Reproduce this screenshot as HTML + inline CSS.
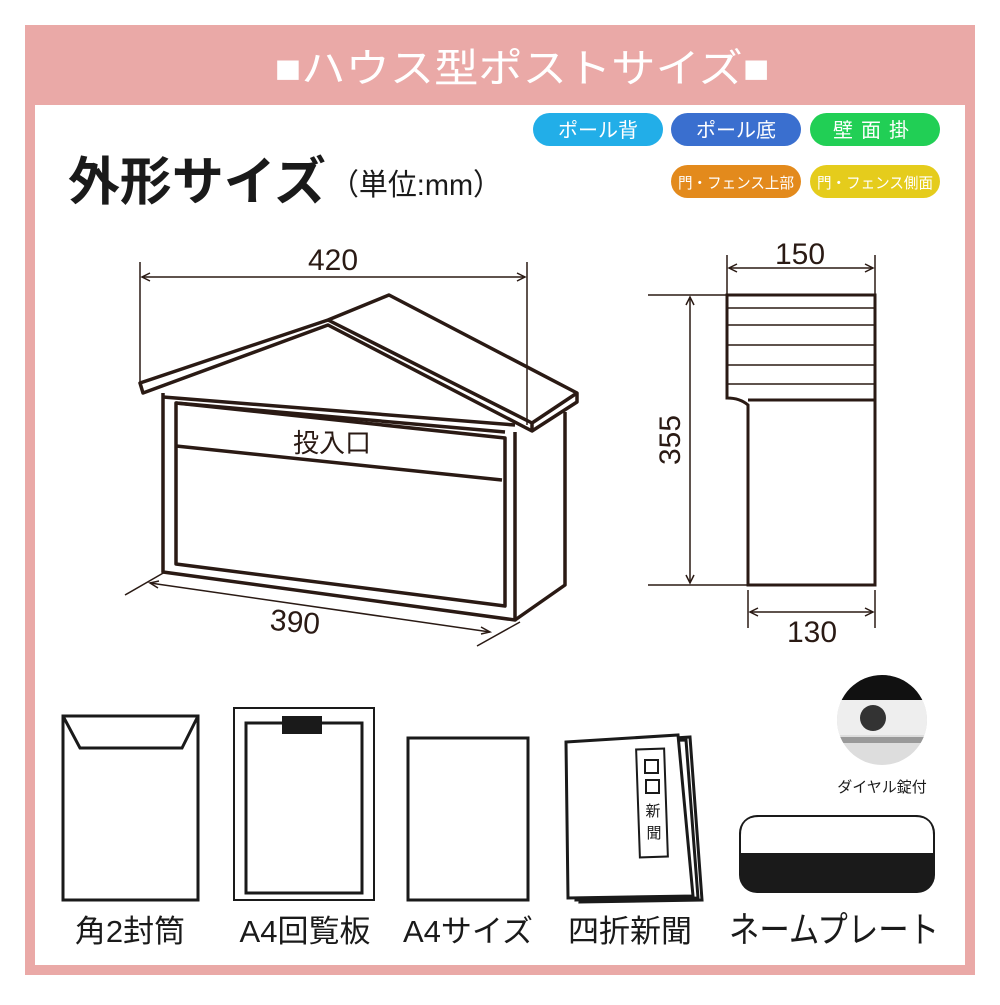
<!DOCTYPE html>
<html><head><meta charset="utf-8"><style>
body{margin:0;background:#fff;}
svg text{font-family:"Liberation Sans","Noto Sans CJK JP",sans-serif;}
</style></head><body>
<svg width="1000" height="1000" viewBox="0 0 1000 1000" xmlns="http://www.w3.org/2000/svg">
<rect x="0" y="0" width="1000" height="1000" fill="#fff"/>
<rect x="25" y="25" width="950" height="950" fill="#eaa9a7"/>
<rect x="35" y="105" width="930" height="860" fill="#fff"/>
<text x="522" y="82" text-anchor="middle" font-size="40" fill="#fff" textLength="495" lengthAdjust="spacingAndGlyphs">■ハウス型ポストサイズ■</text>

<g font-size="20" fill="#fff" text-anchor="middle">
<rect x="533" y="113" width="130" height="33" rx="16.5" fill="#22aee8"/><text x="598" y="137">ポール背</text>
<rect x="671" y="113" width="130" height="33" rx="16.5" fill="#3a6fcf"/><text x="736" y="137">ポール底</text>
<rect x="810" y="113" width="130" height="33" rx="16.5" fill="#21cf55"/><text x="875" y="137" letter-spacing="8">壁面掛</text>
</g>
<g font-size="15" fill="#fff" text-anchor="middle">
<rect x="671" y="165" width="130" height="33" rx="16.5" fill="#e38a1c"/><text x="736" y="188" textLength="116" lengthAdjust="spacingAndGlyphs">門・フェンス上部</text>
<rect x="810" y="165" width="130" height="33" rx="16.5" fill="#e5cc1c"/><text x="875" y="188" textLength="116" lengthAdjust="spacingAndGlyphs">門・フェンス側面</text>
</g>

<text x="68" y="200" font-size="52" font-weight="bold" fill="#1a1a1a" textLength="258" lengthAdjust="spacingAndGlyphs">外形サイズ</text>
<text x="330" y="195" font-size="30" fill="#1a1a1a" textLength="172" lengthAdjust="spacingAndGlyphs">（単位:mm）</text>

<g stroke="#2a1a14" fill="none" stroke-width="1.5">
<line x1="140" y1="262" x2="140" y2="384"/><line x1="527" y1="262" x2="527" y2="425"/>
<line x1="142" y1="277" x2="525" y2="277"/>
<path d="M150 273 L142 277 L150 281 M517 273 L525 277 L517 281"/>
<line x1="125" y1="595" x2="165" y2="572"/><line x1="477" y1="646" x2="520" y2="622"/>
<line x1="150" y1="583" x2="490" y2="632"/>
<path d="M159 581 L150 583 L158 588 M481 627 L490 632 L481 634"/>
</g>
<g stroke="#2a1a14" fill="none" stroke-width="3.5" stroke-linejoin="round">
<path d="M140 383 L328 320 L389 295 L577 393 L577 402 L532 431 L328 325 L143 393 Z"/>
<path d="M328 320 L532 423 L577 393"/>
<line x1="532" y1="423" x2="532" y2="431"/>
<path d="M163 393 L163 572 L515 620 L515 432"/>
<path d="M163 397 L515 425"/>
<path d="M515 620 L565 585 L565 412"/>
<path d="M176 403 L176 564 L505 606 L505 438 Z"/>
<path d="M176 403 L505 432"/>
<line x1="176" y1="446" x2="502" y2="480"/>
</g>
<text x="332" y="452" font-size="26" text-anchor="middle" fill="#2a1a14">投入口</text>
<text x="295" y="632" font-size="30" text-anchor="middle" fill="#2a1a14" transform="rotate(5 295 622)">390</text>
<text x="333" y="270" font-size="30" text-anchor="middle" fill="#2a1a14">420</text>

<g stroke="#2a1a14" fill="none" stroke-width="1.5">
<line x1="727" y1="255" x2="727" y2="294"/><line x1="875" y1="255" x2="875" y2="294"/>
<line x1="729" y1="268" x2="873" y2="268"/>
<path d="M737 264 L729 268 L737 272 M865 264 L873 268 L865 272"/>
<line x1="648" y1="295" x2="727" y2="295"/><line x1="648" y1="585" x2="748" y2="585"/>
<line x1="690" y1="297" x2="690" y2="583"/>
<path d="M686 305 L690 297 L694 305 M686 575 L690 583 L694 575"/>
<line x1="748" y1="590" x2="748" y2="628"/><line x1="875" y1="590" x2="875" y2="628"/>
<line x1="750" y1="612" x2="873" y2="612"/>
<path d="M758 608 L750 612 L758 616 M865 608 L873 612 L865 616"/>
</g>
<g stroke="#2a1a14" fill="none" stroke-width="3">
<path d="M727 295 L875 295 L875 585 L748 585 L748 405 Q740 398 727 398 Z"/>
<line x1="748" y1="400" x2="875" y2="400"/>
</g>
<g stroke="#2a1a14" fill="none" stroke-width="1.5">
<line x1="728" y1="308" x2="875" y2="308"/><line x1="728" y1="325" x2="875" y2="325"/>
<line x1="728" y1="345" x2="875" y2="345"/><line x1="728" y1="365" x2="875" y2="365"/>
<line x1="728" y1="384" x2="875" y2="384"/>
</g>
<text x="800" y="264" font-size="30" text-anchor="middle" fill="#2a1a14">150</text>
<text x="812" y="642" font-size="30" text-anchor="middle" fill="#2a1a14">130</text>
<text x="680" y="440" font-size="30" text-anchor="middle" fill="#2a1a14" transform="rotate(-90 680 440)">355</text>

<g stroke="#1a1a1a" fill="#fff" stroke-width="3">
<rect x="63" y="716" width="135" height="184"/>
<path d="M63 716 L80 748 L182 748 L198 716" fill="none"/>
<rect x="234" y="708" width="140" height="192" stroke-width="2"/>
<rect x="246" y="723" width="116" height="170"/>
<rect x="408" y="738" width="120" height="162"/>
<path d="M598 743 L690 737 L702 900 L580 902 Z"/>
<path d="M590 743 L686 740 L698 898 L576 900 Z"/>
<path d="M566 742 L678 735 L693 896 L568 898 Z"/>
<rect x="638" y="749" width="28" height="108" transform="rotate(-2 652 803)" stroke-width="2"/>
</g>
<rect x="282" y="716" width="40" height="18" fill="#1a1a1a"/>
<g stroke="#1a1a1a" fill="none" stroke-width="2">
<rect x="645" y="760" width="13" height="13"/><rect x="646" y="780" width="13" height="13"/>
</g>
<text x="653" y="816" font-size="15" text-anchor="middle" fill="#1a1a1a">新</text>
<text x="654" y="838" font-size="15" text-anchor="middle" fill="#1a1a1a">聞</text>
<rect x="739" y="815" width="196" height="78" rx="18" fill="#1a1a1a"/>
<path d="M741 853 L741 835 Q741 817 759 817 L915 817 Q933 817 933 835 L933 853 Z" fill="#fff"/>
<clipPath id="c"><circle cx="882" cy="720" r="45"/></clipPath>
<g clip-path="url(#c)">
<rect x="835" y="675" width="95" height="95" fill="#ddd"/>
<rect x="835" y="675" width="95" height="25" fill="#111"/>
<rect x="835" y="700" width="95" height="35" fill="#eee"/>
<circle cx="873" cy="718" r="13" fill="#333"/>
<rect x="835" y="737" width="95" height="6" fill="#999"/>
</g>
<text x="882" y="792" font-size="15" text-anchor="middle" fill="#1a1a1a">ダイヤル錠付</text>
<g font-size="31" fill="#1a1a1a" text-anchor="middle">
<text x="130" y="942">角2封筒</text>
<text x="305" y="942">A4回覧板</text>
<text x="468" y="942">A4サイズ</text>
<text x="630" y="942">四折新聞</text>
<text x="834" y="942" font-size="36" textLength="210" lengthAdjust="spacingAndGlyphs">ネームプレート</text>
</g>
</svg>
</body></html>
